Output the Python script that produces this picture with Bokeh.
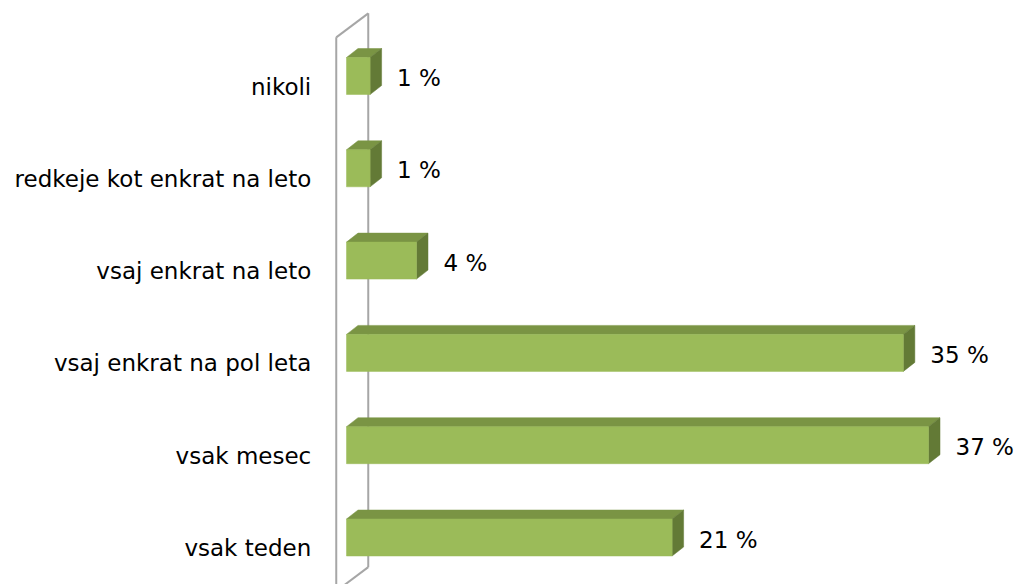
from bokeh.plotting import figure
from bokeh.models import Range1d, ColumnDataSource
from bokeh.embed import file_html
from bokeh.resources import INLINE
from bokeh.core.properties import value

# ---- data ----
categories = ["nikoli", "redkeje kot enkrat na leto", "vsaj enkrat na leto",
              "vsaj enkrat na pol leta", "vsak mesec", "vsak teden"]
values = [1.5, 1.5, 4.45, 35.4, 37.0, 20.7]
value_labels = ["1 %", "1 %", "4 %", "35 %", "37 %", "21 %"]

# ---- style / geometry (pixels) ----
W, H = 1018, 584
PX = 15.73          # pixels per percent
PY = 92.3           # pixels per category
X0_PIX = 346        # pixel of x=0 inside the plot
Y_TOP_PIX = 75.5    # pixel of first category centre
FONT = "DejaVu Sans"
FS = "23px"
FRONT = "#9BBB59"
TOP = "#7A9444"
SIDE = "#637A36"
WALL = "#A6A6A6"

n = len(categories)
ys = [n - 1 - i for i in range(n)]  # top category highest

x_start = -X0_PIX / PX
x_end = (W - X0_PIX) / PX
y_end = (n - 1) + Y_TOP_PIX / PY
y_start = y_end - H / PY

p = figure(width=W, height=H, output_backend="svg", toolbar_location=None,
           x_range=Range1d(x_start, x_end), y_range=Range1d(y_start, y_end),
           min_border=0)
p.axis.visible = False
p.grid.visible = False
p.outline_line_color = None
p.background_fill_color = "white"

bar_h = 37 / PY
dx = 11.5 / PX
dy = 9 / PY
wall_dx = 32 / PX
wall_dy = 24 / PY
xf = -(wall_dx - dx) / 2
off = (wall_dy - dy) / 2  # vertical shift of front plane

# ---- wall ----
yb = -0.5 - off
yt = (n - 0.5) - off
p.line([xf, xf], [yb, yt], line_color=WALL, line_width=2)
p.line([xf, xf + wall_dx], [yt, yt + wall_dy], line_color=WALL, line_width=2)
p.line([xf + wall_dx, xf + wall_dx], [yt + wall_dy, yb + wall_dy], line_color=WALL, line_width=2)
p.line([xf + wall_dx, xf], [yb + wall_dy, yb], line_color=WALL, line_width=2)

# ---- bars ----
fx, fy, tx, ty, sx, sy = [], [], [], [], [], []
for v, c in zip(values, ys):
    b, t = c - bar_h / 2, c + bar_h / 2
    fx.append([0, v, v, 0]); fy.append([b, b, t, t])
    tx.append([0, v, v + dx, dx]); ty.append([t, t, t + dy, t + dy])
    sx.append([v, v + dx, v + dx, v]); sy.append([b, b + dy, t + dy, t])

p.patches(tx, ty, fill_color=TOP, line_color=TOP, line_width=0.5)
p.patches(sx, sy, fill_color=SIDE, line_color=SIDE, line_width=0.5)
p.patches(fx, fy, fill_color=FRONT, line_color=FRONT, line_width=0.5)

# ---- labels ----
cat_src = ColumnDataSource(dict(x=[xf] * n, y=[c - off for c in ys], text=categories))
p.text(x="x", y="y", text="text", source=cat_src, text_align="right",
       text_baseline="middle", x_offset=-25, y_offset=3,
       text_font=value(FONT), text_font_size=FS, text_color="black")

val_src = ColumnDataSource(dict(x=values, y=ys, text=value_labels))
p.text(x="x", y="y", text="text", source=val_src, text_align="left",
       text_baseline="middle", x_offset=27, y_offset=2,
       text_font=value(FONT), text_font_size=FS, text_color="black")

open("out.html", "w").write(file_html(p, INLINE))
